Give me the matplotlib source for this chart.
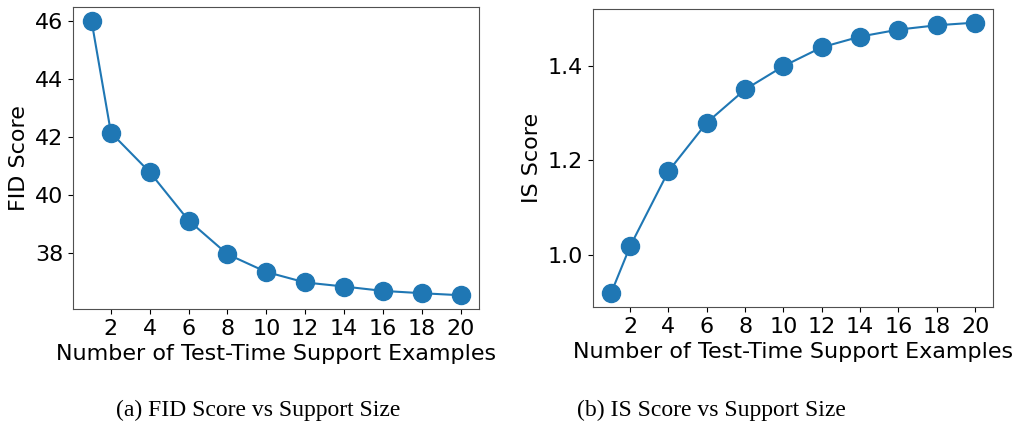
import numpy as np
import matplotlib.pyplot as plt

support = [1, 2, 4, 6, 8, 10, 12, 14, 16, 18, 20]
fid = [46.0, 42.15, 40.79, 39.13, 37.97, 37.36, 37.0, 36.86, 36.71, 36.63, 36.56]
inception = [0.9175, 1.0176, 1.177, 1.28, 1.3505, 1.40, 1.44, 1.4627, 1.4775, 1.4867, 1.4923]
xticks = [2, 4, 6, 8, 10, 12, 14, 16, 18, 20]

plt.rcParams['font.family'] = ['DejaVu Sans']
plt.rcParams['font.size'] = 16

fig = plt.figure(figsize=(10.16, 4.25), dpi=100)

def draw_panel(ax, y, ylabel, yticks):
    ax.plot(support, y, marker='o', markersize=13, color='#1f77b4', linewidth=1.5)
    ax.set_xticks(xticks)
    ax.set_yticks(yticks)
    ax.set_xlabel('Number of Test-Time Support Examples', fontsize=16, labelpad=4)
    ax.set_ylabel(ylabel, fontsize=16)
    ax.tick_params(labelsize=16)
    for s in ax.spines.values():
        s.set_color('#505050')

ax1 = fig.add_axes([0.0719, 0.273, 0.3996, 0.7106])
draw_panel(ax1, fid, 'FID Score', [38, 40, 42, 44, 46])

ax2 = fig.add_axes([0.5834, 0.2776, 0.3943, 0.701])
draw_panel(ax2, inception, 'IS Score', [1.0, 1.2, 1.4])

fig.text(0.254, 0.035, '(a) FID Score vs Support Size', ha='center', va='center',
         family='Liberation Serif', fontsize=17)
fig.text(0.70, 0.035, '(b) IS Score vs Support Size', ha='center', va='center',
         family='Liberation Serif', fontsize=17)

fig.savefig('out.png', dpi=100)
